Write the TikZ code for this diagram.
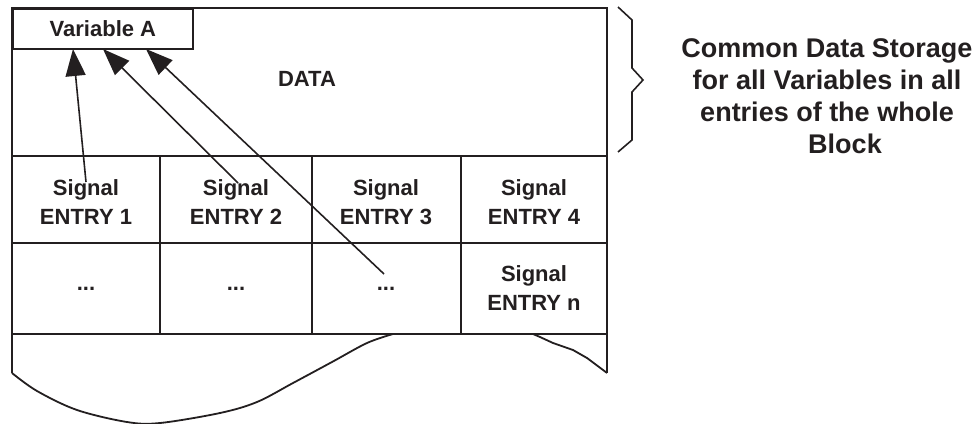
\documentclass[tikz,border=0pt]{standalone}
\usepackage{fontspec}
\setmainfont{Liberation Sans}
\usetikzlibrary{arrows.meta}
\definecolor{ink}{HTML}{231F20}
\tikzset{
  frame/.style={draw=ink, line width=1.8pt, line join=miter},
  celltext/.style={font=\bfseries\fontsize{22}{29}\selectfont, text=ink, align=center, inner sep=0pt},
  pointer/.style={draw=ink, line width=1.6pt, -{Triangle[length=27pt,width=20pt]}},
  note/.style={font=\bfseries\fontsize{27}{32}\selectfont, text=ink, align=center, inner sep=0pt}
}
\begin{document}
\begin{tikzpicture}[x=1pt,y=-1pt]
\useasboundingbox (0,0) rectangle (973,423);

% storage block: outline, data area and the entry grid
\draw[frame] (12,373) -- (12,8) -- (607,8) -- (607,373);
\draw[frame] (12,156) -- (607,156);
\draw[frame] (12,243) -- (607,243);
\draw[frame] (12,334) -- (607,334);
\foreach \x in {160,312,461}
  \draw[frame] (\x,156) -- (\x,334);

% torn-off lower edge
\draw[frame] plot[smooth, tension=0.55] coordinates {
  (12,373) (37,391) (77,410) (127,422) (160,423) (220,413)
  (257,402) (293,383) (332,362) (367,343) (393,334)};
\draw[frame] (533,334) -- (540,337) -- (553,343) -- (573,350) -- (587,358) -- (607,373);

% variable slot and the data area label
\node[frame, celltext, minimum width=180pt, minimum height=40pt, anchor=north west] (varA) at (12,8) {Variable A};
\node[celltext] (data) at (307,79) {DATA};

% entry cells
\node[celltext] (e1) at (86,202) {Signal\\ENTRY 1};
\node[celltext] (e2) at (236,202) {Signal\\ENTRY 2};
\node[celltext] (e3) at (386,202) {Signal\\ENTRY 3};
\node[celltext] (e4) at (534,202) {Signal\\ENTRY 4};
\node[celltext] (r1) at (86,289) {...};
\node[celltext] (r2) at (236,289) {...};
\node[celltext] (r3) at (386,289) {...};
\node[celltext] (rn) at (534,288) {Signal\\ENTRY n};

% references from the entries to the shared variable
\coordinate (tail1) at (86,182);
\coordinate (tail2) at (238,183);
\coordinate (tail3) at (384,274);
\coordinate (tip1) at (73,49);
\coordinate (tip2) at (103,49);
\coordinate (tip3) at (146,49);
\draw[pointer] (tail1) -- (tip1);
\draw[pointer] (tail2) -- (tip2);
\draw[pointer] (tail3) -- (tip3);

% brace over the data area and its caption
\draw[draw=ink, line width=1.6pt] (618,7) -- (632,20) -- (632,68) -- (643,80) -- (632,92) -- (632,140) -- (618,152);
\node[note] (caption) at (827,96) {Common Data Storage\\for all Variables in all\\entries of the whole\\\hspace*{36pt}Block};
\end{tikzpicture}
\end{document}
